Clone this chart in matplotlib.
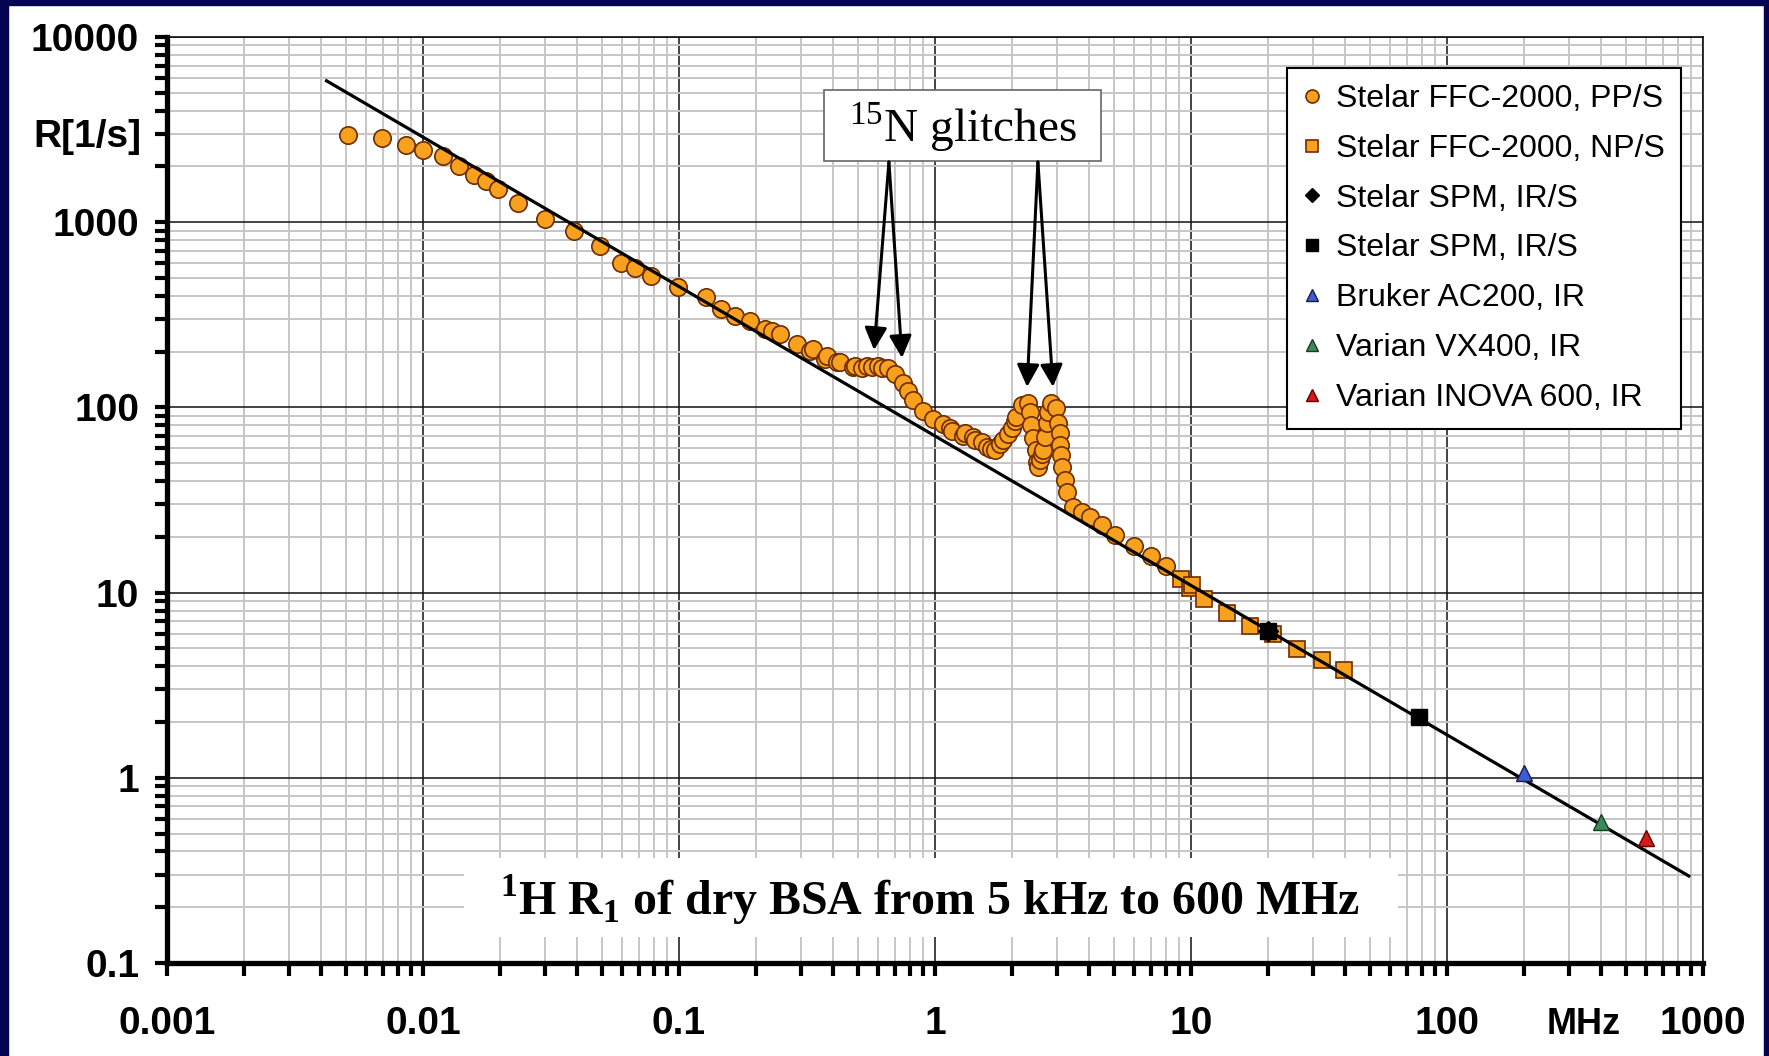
import numpy as np
import matplotlib.pyplot as plt
from matplotlib.patches import Rectangle
from matplotlib.ticker import LogLocator, NullFormatter

plt.rcParams['mathtext.fontset'] = 'custom'
plt.rcParams['mathtext.rm'] = 'Liberation Serif'
plt.rcParams['mathtext.bf'] = 'Liberation Serif:bold'

# Stelar FFC-2000, PP/S  (MHz, 1/s)
pp_f = [0.0051, 0.0069, 0.0086, 0.0100, 0.0120, 0.0138, 0.0158, 0.0177, 0.0196, 0.0236,
        0.0299, 0.0389, 0.0493, 0.0596, 0.0676, 0.0780, 0.0990, 0.127, 0.146, 0.165,
        0.190, 0.216, 0.230, 0.248, 0.288, 0.324, 0.335, 0.371, 0.378, 0.414,
        0.425, 0.480, 0.487, 0.520, 0.541, 0.566, 0.600, 0.620, 0.657, 0.698,
        0.752, 0.787, 0.823, 0.900, 0.985, 1.078, 1.14, 1.16, 1.29, 1.31,
        1.41, 1.43, 1.52, 1.59, 1.66, 1.71, 1.79, 1.85, 1.93, 1.99,
        2.05, 2.08, 2.18, 2.31, 2.35, 2.37, 2.42, 2.48, 2.51, 2.53,
        2.58, 2.62, 2.65, 2.69, 2.73, 2.77, 2.85, 2.98, 3.03, 3.07,
        3.08, 3.11, 3.14, 3.22, 3.27, 3.47, 3.74, 4.03, 4.48, 5.04,
        5.97, 7.00, 7.98]
pp_r = [2940, 2860, 2600, 2440, 2290, 2000, 1800, 1660, 1510, 1270,
        1040, 894, 748, 600, 566, 515, 449, 393, 340, 313,
        292, 265, 258, 249, 220, 201, 207, 182, 190, 175,
        175, 166, 168, 164, 167, 166, 168, 163, 163, 151,
        136, 123, 109, 96, 86.5, 81, 77, 74.8, 70.3, 72.4,
        68.8, 66.7, 64.7, 61.4, 59.6, 58.9, 63.4, 66.7, 71.8, 77,
        84.7, 89, 103, 105, 95, 80, 68, 58.9, 51, 47.9,
        52, 56, 58.9, 69.5, 82, 95, 105, 99, 82, 72.4,
        62.7, 55.4, 47.9, 40.5, 35.1, 29.1, 27.4, 25.7, 23.2, 20.5,
        17.8, 15.7, 13.9]

# Stelar FFC-2000, NP/S
np_f = [9.1, 9.88, 10.1, 11.2, 13.8, 17.0, 20.9, 25.9, 32.4, 39.6]
np_r = [11.8, 10.6, 11.0, 9.2, 7.8, 6.6, 6.0, 4.97, 4.3, 3.8]

# Stelar SPM, IR/S
spm_d_f = [20.0]
spm_d_r = [6.2]
spm_s_f = [20.0, 77.6]
spm_s_r = [6.23, 2.14]

# high-field spectrometers
bruker_f, bruker_r = [200], [1.06]
vx400_f, vx400_r = [400], [0.58]
inova_f, inova_r = [600], [0.476]

# power-law fit line (end points)
fit_f = [0.0042, 880]
fit_r = [5800, 0.295]

# 15N glitch arrow tips (data) and tails (axes fraction)
arrow_tip_f = [0.578, 0.743, 2.29, 2.89]
arrow_tip_r = [204, 185, 129, 129]
arrow_tail_x = [0.470, 0.470, 0.567, 0.567]
arrow_tail_y = [0.865, 0.865, 0.865, 0.865]

x_ticks = [0.001, 0.01, 0.1, 1, 10, 100, 1000]
x_labels = ['0.001', '0.01', '0.1', '1', '10', '100', '1000']
y_ticks = [0.1, 1, 10, 100, 1000, 10000]
y_labels = ['0.1', '1', '10', '100', '1000', '10000']

orange = '#F7A11F'
brown = '#6E2C00'
navy = '#03034f'

fig = plt.figure(figsize=(17.69, 10.56), dpi=100)
fig.patch.set_facecolor('white')
W, H = 1769, 1056
fig.add_artist(Rectangle((0, 0), 8 / W, 1, transform=fig.transFigure, color=navy, zorder=0))
fig.add_artist(Rectangle((0, 1 - 5 / H), 1, 5 / H, transform=fig.transFigure, color=navy, zorder=0))
fig.add_artist(Rectangle((1 - 5 / W, 0), 5 / W, 1, transform=fig.transFigure, color=navy, zorder=0))

ax = fig.add_axes([167 / W, 1 - 963 / H, 1536 / W, 926 / H])
ax.set_xscale('log')
ax.set_yscale('log')
ax.set_xlim(1e-3, 1e3)
ax.set_ylim(0.1, 1e4)

ax.xaxis.set_minor_locator(LogLocator(base=10, subs=np.arange(2, 10), numticks=20))
ax.yaxis.set_minor_locator(LogLocator(base=10, subs=np.arange(2, 10), numticks=20))
ax.xaxis.set_minor_formatter(NullFormatter())
ax.yaxis.set_minor_formatter(NullFormatter())
ax.set_xticks(x_ticks, x_labels)
ax.set_yticks(y_ticks, y_labels)

ax.set_axisbelow(True)
ax.grid(which='minor', color='#c6c6c6', lw=1.4)
ax.grid(which='major', color='#111111', lw=1.1)

ax.tick_params(which='both', direction='out', length=9, width=3, colors='black')
ax.tick_params(axis='x', which='major', pad=22)
ax.tick_params(axis='y', which='major', pad=11)
for lab in ax.get_xticklabels() + ax.get_yticklabels():
    lab.set_family('Liberation Sans')
    lab.set_fontweight('bold')
    lab.set_fontsize(28)

for s in ['left', 'bottom']:
    ax.spines[s].set_linewidth(3.8)
for s in ['top', 'right']:
    ax.spines[s].set_linewidth(1.2)
    ax.spines[s].set_color('#111111')

ax.plot(pp_f, pp_r, 'o', ms=12.5, mfc=orange, mec=brown, mew=1.2, ls='none', zorder=5,
        label='Stelar FFC-2000, PP/S')
ax.plot(np_f, np_r, 's', ms=12, mfc=orange, mec=brown, mew=1.2, ls='none', zorder=5,
        label='Stelar FFC-2000, NP/S')
ax.plot(fit_f, fit_r, color='black', lw=2.3, zorder=6)
ax.plot(spm_d_f, spm_d_r, 'D', ms=10, mfc='black', mec='black', ls='none', zorder=7,
        label='Stelar SPM, IR/S')
ax.plot(spm_s_f, spm_s_r, 's', ms=12, mfc='black', mec='black', ls='none', zorder=7,
        label='Stelar SPM, IR/S')
ax.plot(bruker_f, bruker_r, '^', ms=12, mfc='#3b5fd0', mec='#1a1a50', mew=1, ls='none', zorder=7,
        label='Bruker AC200, IR')
ax.plot(vx400_f, vx400_r, '^', ms=12, mfc='#3a8a5c', mec='#1a3a20', mew=1, ls='none', zorder=7,
        label='Varian VX400, IR')
ax.plot(inova_f, inova_r, '^', ms=12, mfc='#d61a1a', mec='#600000', mew=1, ls='none', zorder=7,
        label='Varian INOVA 600, IR')

leg = ax.legend(loc='upper right', bbox_to_anchor=(0.9857, 0.9665), borderaxespad=0,
                prop={'family': 'Liberation Sans', 'size': 23}, markerscale=0.75,
                handlelength=0.6, handletextpad=0.45, labelspacing=0.62, borderpad=0.5,
                fancybox=False, framealpha=1, edgecolor='black')
leg.get_frame().set_linewidth(1.5)
leg.set_zorder(10)

# 15N glitches label and arrows
ax.add_patch(Rectangle((0.4277, 0.866), 0.1803, 0.0768, transform=ax.transAxes,
                       fc='white', ec='#666666', lw=1.2, zorder=8))
ax.text(0.518, 0.8866, r'$^{15}$N glitches', transform=ax.transAxes, ha='center', va='baseline',
        fontsize=34, family='Liberation Serif', zorder=9)
for tf, tr, hx, hy in zip(arrow_tip_f, arrow_tip_r, arrow_tail_x, arrow_tail_y):
    ax.annotate('', xy=(tf, tr), xycoords='data', xytext=(hx, hy), textcoords='axes fraction',
                arrowprops=dict(arrowstyle='-|>', color='black', lw=2.2, mutation_scale=34,
                                shrinkA=0, shrinkB=0), zorder=9)

# bottom title box
ax.add_patch(Rectangle((0.1934, 0.0281), 0.608, 0.0853, transform=ax.transAxes,
                       fc='white', ec='none', zorder=8))
ax.text(0.4967, 0.0518, r'$^{\mathbf{1}}$H R$_{\mathbf{1}}$ of dry BSA from 5 kHz to 600 MHz',
        transform=ax.transAxes, ha='center', va='baseline', fontsize=34.5,
        family='Liberation Serif', fontweight='bold', zorder=9)

fig.text(141 / W, 1 - 137 / H, 'R[1/s]', ha='right', va='center', fontsize=28,
         family='Liberation Sans', fontweight='bold')
fig.text(1584 / W, 1 - 1024 / H, 'MHz', ha='center', va='center', fontsize=26,
         family='Liberation Sans', fontweight='bold')

fig.savefig('out.png', dpi=100, facecolor=fig.get_facecolor())
